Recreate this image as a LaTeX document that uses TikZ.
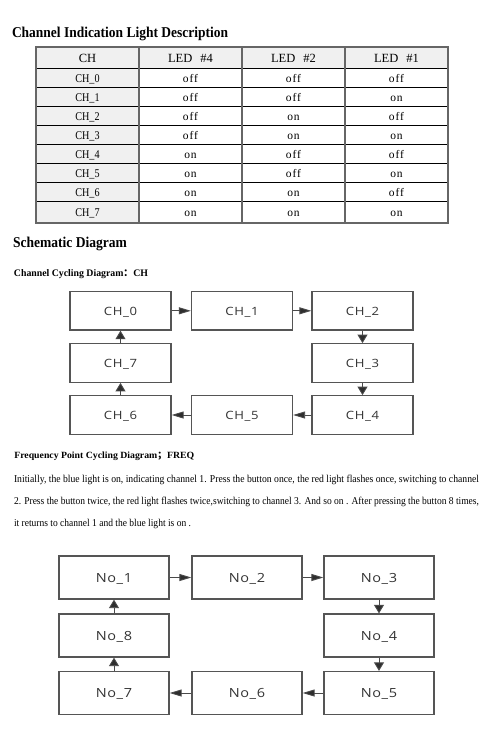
\documentclass[tikz,border=0pt]{standalone}
\usepackage{fontspec}
\usepackage{graphicx}
\setmainfont{Liberation Serif}
\newfontfamily\chfont[LetterSpace=5]{Open Sans}
\newfontfamily\nofont[LetterSpace=4]{Open Sans}
\newfontfamily\cjkfont{Noto Sans CJK SC}
\newfontfamily\tabfont[LetterSpace=8]{Liberation Serif}
\usetikzlibrary{arrows.meta}
\newcommand{\fitw}[2]{\resizebox{#1}{\height}{#2}}
\newcommand{\wide}[1]{\scalebox{1.15}[1]{#1}}
\definecolor{boxgray}{HTML}{555555}
\definecolor{linegray}{HTML}{4A4A4A}
\definecolor{headgray}{HTML}{2E2E2E}
\definecolor{cellgray}{HTML}{F0F0F0}
\definecolor{tabborder}{HTML}{666666}
\definecolor{labelgray}{HTML}{333333}
\tikzset{
  txt/.style={anchor=base west, inner sep=0pt, outer sep=0pt},
  tabtxt/.style={anchor=base, inner sep=0pt},
  chbox/.style={draw=boxgray, line width=1.3pt, fill=white, text=labelgray, minimum width=101pt, minimum height=38.5pt, inner sep=0pt, text height=9pt, text depth=0pt, font=\chfont\fontsize{11.4}{13}\selectfont},
  nobox/.style={draw=boxgray, line width=1.3pt, fill=white, text=labelgray, minimum width=110pt, minimum height=43pt, inner sep=0pt, text height=9.6pt, text depth=0pt, font=\nofont\fontsize{12.6}{14}\selectfont},
  harrow/.style={draw=linegray, line width=0.9pt, -{Triangle[length=12pt,width=7pt,fill=headgray]}},
  varrow/.style={draw=linegray, line width=0.9pt, -{Triangle[length=8.5pt,width=10pt,fill=headgray]}},
}
\begin{document}
\begin{tikzpicture}[x=1pt,y=-1pt]
\useasboundingbox (0,0) rectangle (502,731);
\fill[white] (0,0) rectangle (502,731);

% Title
\node[txt] (title) at (12,37.7) {\fitw{216pt}{\fontsize{15}{18}\selectfont\bfseries Channel Indication Light Description}};

% Table
\fill[cellgray] (36,47) rectangle (139,223);
\fill[cellgray] (36,47) rectangle (448,68);
\foreach \y in {68,87.3,106.5,125.3,144.3,163.3,182.7,201.7}
  \draw[black, line width=0.8pt] (36,\y) -- (448,\y);
\foreach \x in {139,242,345}
  \draw[tabborder, line width=1.5pt] (\x,47) -- (\x,223);
\draw[tabborder, line width=1.6pt] (36,47) rectangle (448,223);

\node[tabtxt] (hch) at (87.5,62.3) {\fontsize{12.5}{14}\selectfont CH};
\node[tabtxt] (hl4) at (190.5,62.3) {\fontsize{12.5}{14}\selectfont LED\hspace{8pt}\#4};
\node[tabtxt] (hl2) at (293.5,62.3) {\fontsize{12.5}{14}\selectfont LED\hspace{8pt}\#2};
\node[tabtxt] (hl1) at (396.5,62.3) {\fontsize{12.5}{14}\selectfont LED\hspace{8pt}\#1};

\foreach \ch/\yc/\a/\b/\c in {0/77.6/off/off/off, 1/96.9/off/off/on, 2/115.9/off/on/off, 3/134.8/off/on/on, 4/153.8/on/off/off, 5/173/on/off/on, 6/192.2/on/on/off, 7/212.3/on/on/on}{
  \node[tabtxt] (ch\ch) at (87.5,{\yc+4.5}) {\scalebox{0.86}[1]{\fontsize{11.8}{14}\selectfont CH\_\ch}};
  \node[tabtxt] (la\ch) at (190.5,{\yc+4.5}) {\tabfont\fontsize{11.5}{13}\selectfont \a};
  \node[tabtxt] (lb\ch) at (293.5,{\yc+4.5}) {\tabfont\fontsize{11.5}{13}\selectfont \b};
  \node[tabtxt] (lc\ch) at (396.5,{\yc+4.5}) {\tabfont\fontsize{11.5}{13}\selectfont \c};
}

% Schematic heading
\node[txt] (schem) at (13,247.3) {\fitw{114pt}{\fontsize{15}{18}\selectfont\bfseries Schematic Diagram}};
\node[txt] (chcap) at (14,276) {\fitw{134pt}{\fontsize{10}{12}\selectfont\bfseries Channel Cycling Diagram{\cjkfont ：}CH}};

% Diagram 1
\node[chbox] (c0) at (120.5,310.8) {\wide{CH\_0}};
\node[chbox] (c1) at (242,310.8) {\wide{CH\_1}};
\node[chbox] (c2) at (362.5,310.8) {\wide{CH\_2}};
\node[chbox] (c7) at (120.5,363) {\wide{CH\_7}};
\node[chbox] (c3) at (362.5,363) {\wide{CH\_3}};
\node[chbox] (c6) at (120.5,415) {\wide{CH\_6}};
\node[chbox] (c5) at (242,415) {\wide{CH\_5}};
\node[chbox] (c4) at (362.5,415) {\wide{CH\_4}};
\draw[harrow] (c0) -- (c1);
\draw[harrow] (c1) -- (c2);
\draw[varrow] (c2) -- (c3);
\draw[varrow] (c3) -- (c4);
\draw[harrow] (c4) -- (c5);
\draw[harrow] (c5) -- (c6);
\draw[varrow] (c6) -- (c7);
\draw[varrow] (c7) -- (c0);

% Frequency caption and paragraph
\node[txt] (fqcap) at (14.3,458) {\fitw{180pt}{\fontsize{9.5}{12}\selectfont\bfseries Frequency Point Cycling Diagram{\cjkfont ；}FREQ}};
\node[txt] (p1) at (14,482.7) {\fitw{465pt}{\fontsize{10.5}{12}\selectfont Initially, the blue light is on, indicating channel 1. Press the button once, the red light flashes once, switching to channel}};
\node[txt] (p2) at (14,504.7) {\fitw{465pt}{\fontsize{10.5}{12}\selectfont 2. Press the button twice, the red light flashes twice,switching to channel 3. And so on . After pressing the button 8 times,}};
\node[txt] (p3) at (14,526.7) {\fitw{177pt}{\fontsize{10.5}{12}\selectfont it returns to channel 1 and the blue light is on .}};

% Diagram 2
\node[nobox] (n1) at (114,577.5) {\wide{No\_1}};
\node[nobox] (n2) at (247,577.5) {\wide{No\_2}};
\node[nobox] (n3) at (379,577.5) {\wide{No\_3}};
\node[nobox] (n8) at (114,635.5) {\wide{No\_8}};
\node[nobox] (n4) at (379,635.5) {\wide{No\_4}};
\node[nobox] (n7) at (114,693) {\wide{No\_7}};
\node[nobox] (n6) at (247,693) {\wide{No\_6}};
\node[nobox] (n5) at (379,693) {\wide{No\_5}};
\draw[harrow] (n1) -- (n2);
\draw[harrow] (n2) -- (n3);
\draw[varrow] (n3) -- (n4);
\draw[varrow] (n4) -- (n5);
\draw[harrow] (n5) -- (n6);
\draw[harrow] (n6) -- (n7);
\draw[varrow] (n7) -- (n8);
\draw[varrow] (n8) -- (n1);
\end{tikzpicture}
\end{document}
